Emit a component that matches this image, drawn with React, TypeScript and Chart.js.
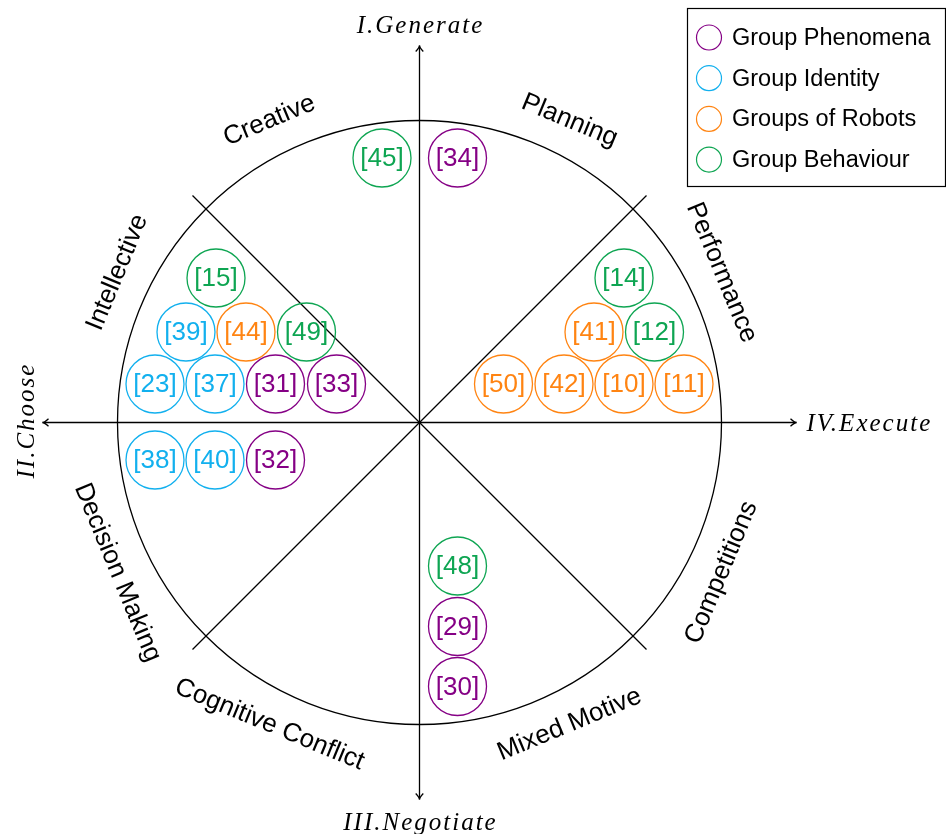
import React, { useEffect, useRef } from 'react';
import { Chart, registerables } from 'chart.js';
Chart.register(...registerables);

// ---- data ----
const groups = ['Group Phenomena', 'Group Identity', 'Groups of Robots', 'Group Behaviour'];
const groupColors = ['#850085', '#12B0EE', '#FF8412', '#0EA552'];

const phenomenaRefs = ['[34]', '[31]', '[33]', '[32]', '[29]', '[30]'];
const phenomenaX = [38, -144, -83, -144, 38, 38];
const phenomenaY = [264.5, 38.5, 38.5, -37.5, -204, -264];

const identityRefs = ['[39]', '[23]', '[37]', '[38]', '[40]'];
const identityX = [-233.5, -264.5, -204.5, -264.5, -204.5];
const identityY = [90.5, 38.5, 38.5, -37.5, -37.5];

const robotsRefs = ['[44]', '[41]', '[50]', '[42]', '[10]', '[11]'];
const robotsX = [-173.5, 174.5, 84, 144.5, 204.5, 264.5];
const robotsY = [90.5, 90.5, 38.5, 38.5, 38.5, 38.5];

const behaviourRefs = ['[45]', '[15]', '[49]', '[14]', '[12]', '[48]'];
const behaviourX = [-37.5, -203.5, -113, 204.5, 235, 38];
const behaviourY = [264.5, 144.5, 90.5, 144.5, 90.5, -143.5];

const sectorLabels = ['Creative', 'Planning', 'Performance', 'Competitions', 'Mixed Motive', 'Cognitive Conflict', 'Decision Making', 'Intellective'];
const axisLabels = ['I.Generate', 'II.Choose', 'III.Negotiate', 'IV.Execute'];

const CIRCLE_R = 302;
const DIAG = 227;
const AXIS_END = 377;

const groupRefs = [phenomenaRefs, identityRefs, robotsRefs, behaviourRefs];
const groupX = [phenomenaX, identityX, robotsX, behaviourX];
const groupY = [phenomenaY, identityY, robotsY, behaviourY];

// sector label layout (position in data units, rotation in degrees)
const sectorLayout: [number, number, number][] = [
  [-150, 302, -22.5],
  [150, 302, 22.5],
  [302, 150, 67.5],
  [302, -150, -67.5],
  [150, -302, -22.5],
  [-150, -302, 22.5],
  [-302, -150, 67.5],
  [-302, 150, -67.5],
];

const diagramPlugin = {
  id: 'diagram',
  beforeDatasetsDraw(chart: any) {
    const ctx = chart.ctx;
    const xs = chart.scales.x, ys = chart.scales.y;
    const X = (v: number) => xs.getPixelForValue(v);
    const Y = (v: number) => ys.getPixelForValue(v);
    const cx = X(0), cy = Y(0);
    const r = X(CIRCLE_R) - cx;
    ctx.save();
    ctx.strokeStyle = '#000';
    ctx.lineWidth = 1.3;
    ctx.beginPath();
    ctx.arc(cx, cy, r, 0, Math.PI * 2);
    ctx.stroke();
    // diagonals
    ctx.beginPath();
    ctx.moveTo(X(-DIAG), Y(DIAG));
    ctx.lineTo(X(DIAG), Y(-DIAG));
    ctx.moveTo(X(DIAG), Y(DIAG));
    ctx.lineTo(X(-DIAG), Y(-DIAG));
    ctx.stroke();
    // axes
    ctx.beginPath();
    ctx.moveTo(cx, Y(AXIS_END));
    ctx.lineTo(cx, Y(-AXIS_END));
    ctx.moveTo(X(-AXIS_END), cy);
    ctx.lineTo(X(AXIS_END), cy);
    ctx.stroke();
    // arrow heads
    const head = (tx: number, ty: number, dx: number, dy: number) => {
      const L = 6, W = 3.8;
      const px = -dy, py = dx;
      ctx.beginPath();
      ctx.moveTo(tx - dx * L + px * W, ty - dy * L + py * W);
      ctx.quadraticCurveTo(tx - dx * 2, ty - dy * 2, tx, ty);
      ctx.quadraticCurveTo(tx - dx * 2, ty - dy * 2, tx - dx * L - px * W, ty - dy * L - py * W);
      ctx.stroke();
    };
    head(cx, Y(AXIS_END), 0, -1);
    head(cx, Y(-AXIS_END), 0, 1);
    head(X(-AXIS_END), cy, -1, 0);
    head(X(AXIS_END), cy, 1, 0);
    ctx.restore();
  },
  afterDatasetsDraw(chart: any) {
    const ctx = chart.ctx;
    const xs = chart.scales.x, ys = chart.scales.y;
    const X = (v: number) => xs.getPixelForValue(v);
    const Y = (v: number) => ys.getPixelForValue(v);
    const cx = X(0), cy = Y(0);
    ctx.save();
    // bubble labels
    ctx.font = '26px "Liberation Sans", Arial, sans-serif';
    ctx.textAlign = 'center';
    ctx.textBaseline = 'middle';
    chart.data.datasets.forEach((ds: any, i: number) => {
      ctx.fillStyle = groupColors[i];
      ds.data.forEach((p: any) => {
        ctx.fillText(p.ref, X(p.x), Y(p.y) + 1);
      });
    });
    // sector labels
    ctx.fillStyle = '#000';
    ctx.font = '26px "Liberation Sans", Arial, sans-serif';
    sectorLabels.forEach((s, i) => {
      const [sx, sy, rot] = sectorLayout[i];
      ctx.save();
      ctx.translate(X(sx), Y(sy));
      ctx.rotate((rot * Math.PI) / 180);
      ctx.fillText(s, 0, 0);
      ctx.restore();
    });
    // axis labels
    ctx.font = 'italic 25px "Liberation Serif", "DejaVu Serif", serif';
    (ctx as any).letterSpacing = '2px';
    ctx.textBaseline = 'alphabetic';
    ctx.textAlign = 'center';
    ctx.fillText(axisLabels[0], cx + 1, Y(AXIS_END) - 13);
    ctx.fillText(axisLabels[2], cx + 1, Y(-AXIS_END) + 30);
    ctx.save();
    ctx.translate(X(-AXIS_END) - 9, cy - 2);
    ctx.rotate(-Math.PI / 2);
    ctx.fillText(axisLabels[1], 0, 0);
    ctx.restore();
    ctx.textAlign = 'left';
    ctx.fillText(axisLabels[3], X(AXIS_END) + 10, cy + 8);
    (ctx as any).letterSpacing = '0px';
    // legend
    const lx = 687.5, ly = 8.5, lw = 258, lh = 178;
    ctx.strokeStyle = '#000';
    ctx.lineWidth = 1.2;
    ctx.strokeRect(lx, ly, lw, lh);
    ctx.font = '23.5px "Liberation Sans", Arial, sans-serif';
    ctx.textBaseline = 'middle';
    groups.forEach((g, i) => {
      const yy = 37.5 + i * 40.7;
      ctx.strokeStyle = groupColors[i];
      ctx.beginPath();
      ctx.arc(709, yy, 12.5, 0, Math.PI * 2);
      ctx.stroke();
      ctx.fillStyle = '#000';
      ctx.fillText(g, 732, yy + 1);
    });
    ctx.restore();
  },
};

export default function App() {
  const ref = useRef<HTMLCanvasElement>(null);
  useEffect(() => {
    if (!ref.current) return;
    const datasets = groups.map((g, i) => ({
      label: g,
      data: groupRefs[i].map((rf, j) => ({ x: groupX[i][j], y: groupY[i][j], ref: rf })),
      pointRadius: 29,
      pointHoverRadius: 29,
      pointStyle: 'circle',
      backgroundColor: 'rgba(0,0,0,0)',
      borderColor: groupColors[i],
      borderWidth: 1.3,
      clip: false,
    }));
    const chart = new Chart(ref.current, {
      type: 'scatter',
      data: { datasets } as any,
      options: {
        animation: false,
        responsive: false,
        events: [],
        layout: { padding: 0, autoPadding: false },
        plugins: { legend: { display: false }, tooltip: { enabled: false } },
        scales: {
          x: { type: 'linear', display: false, min: -419.5, max: 526.5 },
          y: { type: 'linear', display: false, min: -411.5, max: 422.5 },
        },
      },
      plugins: [diagramPlugin],
    });
    return () => chart.destroy();
  }, []);
  return (
    <div style={{ position: 'absolute', left: 0, top: 0, width: 946, height: 834, background: '#fff' }}>
      <canvas ref={ref} width={946} height={834} style={{ display: 'block' }} />
    </div>
  );
}
